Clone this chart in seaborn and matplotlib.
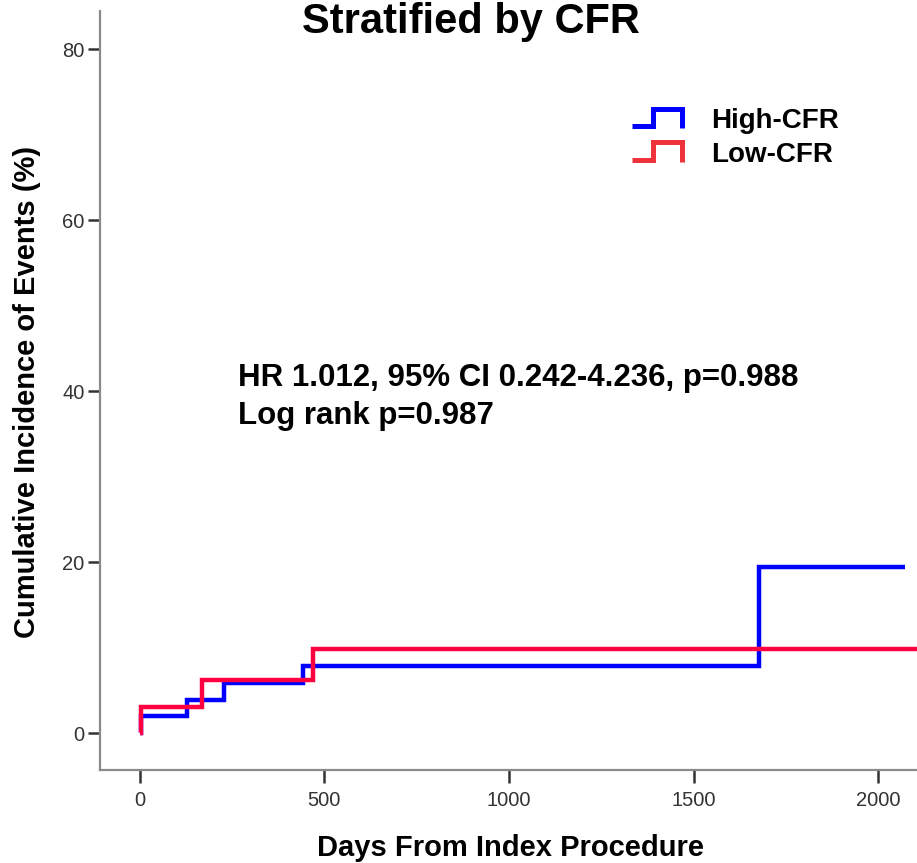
import numpy as np
import pandas as pd
import seaborn as sns
import matplotlib
matplotlib.use("Agg")
import matplotlib.pyplot as plt
from matplotlib.lines import Line2D
from matplotlib.legend_handler import HandlerBase

# Kaplan-Meier style cumulative incidence (%), step changes at event days
high_days = [0, 3, 127, 227, 441, 1676, 2073]
high_inc = [0.0, 1.96, 3.92, 5.88, 7.84, 19.4, 19.4]
low_days = [0, 3, 167, 468, 2150]
low_inc = [0.0, 3.1, 6.2, 9.9, 9.9]

groups = ["High-CFR", "Low-CFR"]
line_colors = {"High-CFR": "#0000FF", "Low-CFR": "#FF0040"}
legend_colors = {"High-CFR": "#0000FF", "Low-CFR": "#F0323C"}

x_ticks = [0, 500, 1000, 1500, 2000]
y_ticks = [0, 20, 40, 60, 80]

title = "Stratified by CFR"
stats_lines = ["HR 1.012, 95% CI 0.242-4.236, p=0.988", "Log rank p=0.987"]

df = pd.concat([
    pd.DataFrame({"day": high_days, "inc": high_inc, "group": "High-CFR"}),
    pd.DataFrame({"day": low_days, "inc": low_inc, "group": "Low-CFR"}),
], ignore_index=True)

sns.set_style("white")
plt.rcParams["font.family"] = ["Liberation Sans", "DejaVu Sans"]
plt.rcParams["text.color"] = "black"

W, H = 917, 863
fig = plt.figure(figsize=(W / 100, H / 100), dpi=100)
ax = fig.add_axes([100 / W, (H - 770) / H, (W - 100) / W + 0.02, (770 - 11) / H])

for g in groups:
    sns.lineplot(data=df[df["group"] == g], x="day", y="inc", ax=ax,
                 color=line_colors[g], linewidth=3.2, drawstyle="steps-post",
                 estimator=None, sort=False, legend=False,
                 solid_capstyle="butt", solid_joinstyle="miter")

ax.set_xlim(-108, 2155)
ax.set_ylim(-4.3, 84.5)
ax.set_xticks(x_ticks)
ax.set_yticks(y_ticks)
ax.set_xlabel("")
ax.set_ylabel("")

for side in ["top", "right"]:
    ax.spines[side].set_visible(False)
for side in ["left", "bottom"]:
    ax.spines[side].set_color("#8a8a8a")
    ax.spines[side].set_linewidth(1.6)

ax.tick_params(axis="both", which="major", direction="out", length=9,
               width=1.8, color="#333333", labelsize=14.5,
               labelcolor="#333333", left=True, bottom=True)
ax.tick_params(axis="x", pad=6)
ax.tick_params(axis="y", pad=2)


class StepHandler(HandlerBase):
    def create_artists(self, legend, orig_handle, xdescent, ydescent,
                       width, height, fontsize, trans):
        x0, y0 = -xdescent, -ydescent
        xs = [x0, x0 + 0.42 * width, x0 + 0.42 * width, x0 + width, x0 + width]
        ys = [y0 + 0.1 * height, y0 + 0.1 * height, y0 + height, y0 + height, y0]
        ln = Line2D(xs, ys, color=orig_handle.get_color(), linewidth=3.6,
                    solid_joinstyle="miter", solid_capstyle="butt",
                    transform=trans)
        return [ln]


handles = [Line2D([], [], color=legend_colors[g]) for g in groups]
leg = ax.legend(handles, groups, loc="upper left",
                bbox_to_anchor=(632 / W, 1 - 108 / H),
                bbox_transform=fig.transFigure,
                handler_map={Line2D: StepHandler()},
                frameon=False, borderpad=0, borderaxespad=0,
                handlelength=1.8, handleheight=0.7, handletextpad=1.05,
                labelspacing=0.28,
                prop={"weight": "bold", "size": 20})
for t in leg.get_texts():
    t.set_color("black")

fig.text(471 / W, 1 - 33 / H, title, ha="center", va="baseline",
         fontsize=30, fontweight="bold", color="black")
fig.text(238 / W, 1 - 386 / H, stats_lines[0], ha="left", va="baseline",
         fontsize=22.5, fontweight="bold", color="black")
fig.text(238 / W, 1 - 424 / H, stats_lines[1], ha="left", va="baseline",
         fontsize=22.5, fontweight="bold", color="black")
fig.text(510 / W, 1 - 856 / H, "Days From Index Procedure", ha="center",
         va="baseline", fontsize=21, fontweight="bold", color="black")
fig.text(27 / W, 1 - 392 / H, "Cumulative Incidence of Events (%)",
         ha="center", va="center", rotation=90, fontsize=21,
         fontweight="bold", color="black")

fig.savefig("out.png", dpi=100)
